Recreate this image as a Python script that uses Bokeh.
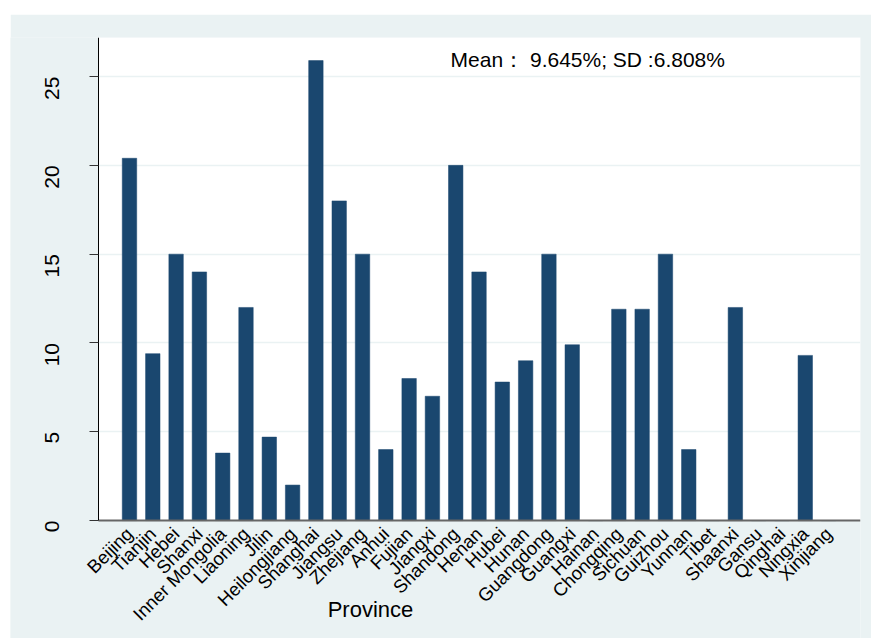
import math
from bokeh.plotting import figure
from bokeh.models import (Range1d, FixedTicker, Label, ColumnDataSource,
                          LinearAxis, BoxAnnotation)
from bokeh.embed import file_html
from bokeh.resources import INLINE

provinces = ["Beijing", "Tianjin", "Hebei", "Shanxi", "Inner Mongolia", "Liaoning",
             "Jilin", "Heilongjiang", "Shanghai", "Jiangsu", "Zhejiang", "Anhui",
             "Fujian", "Jiangxi", "Shandong", "Henan", "Hubei", "Hunan", "Guangdong",
             "Guangxi", "Hainan", "Chongqing", "Sichuan", "Guizhou", "Yunnan", "Tibet",
             "Shaanxi", "Gansu", "Qinghai", "Ningxia", "Xinjiang"]
values = [20.4, 9.4, 15.0, 14.0, 3.8, 12.0,
          4.7, 2.0, 25.9, 18.0, 15.0, 4.0,
          8.0, 7.0, 20.0, 14.0, 7.8, 9.0, 15.0,
          9.9, 0.0, 11.9, 11.9, 15.0, 4.0, 0.0,
          12.0, 0.0, 0.0, 9.3, 0.0]
y_ticks = [0, 5, 10, 15, 20, 25]
annotation = "Mean：  9.645%; SD :6.808%"
x_title = "Province"

FONT = "Liberation Sans"
BG = "#eaf2f3"
BAR = "#1a476f"
Y_TOP = 27.2
Y_BOTTOM = -6.64
X_LEFT = -5.106      # outer edge of the canvas (room for y tick labels)
X_AXIS = -1.33       # where the y axis sits (left edge of the plot region)
X_RIGHT = 31.37

idx = list(range(len(provinces)))
src = ColumnDataSource(dict(x=idx, top=values))

p = figure(width=861, height=624, output_backend="svg", toolbar_location=None,
           x_range=Range1d(X_LEFT, X_RIGHT), y_range=Range1d(Y_BOTTOM, Y_TOP),
           x_axis_location=None, y_axis_location=None)
p.margin = (14, 0, 0, 10)
p.min_border_left = 0
p.min_border_right = 11
p.min_border_top = 23
p.min_border_bottom = 0
p.border_fill_color = BG
p.background_fill_color = BG
p.outline_line_color = None

# grid
p.xgrid.grid_line_color = None
p.ygrid.ticker = FixedTicker(ticks=y_ticks[1:])
p.ygrid.grid_line_color = BG
p.ygrid.grid_line_width = 1.5

# white plot region
p.add_layout(BoxAnnotation(bottom=0, left=X_AXIS, fill_color="white", fill_alpha=1,
                           line_color=None, level="image"))
# keep grid lines out of the outer margin
p.add_layout(BoxAnnotation(right=X_AXIS, fill_color=BG, fill_alpha=1,
                           line_color=None, level="underlay"))

p.vbar(x="x", top="top", width=0.62, bottom=0, source=src,
       fill_color=BAR, line_color=BAR, line_width=0.5)

# y axis
yaxis = LinearAxis(fixed_location=X_AXIS)
yaxis.ticker = FixedTicker(ticks=y_ticks)
yaxis.bounds = (0, Y_TOP)
yaxis.minor_tick_line_color = None
yaxis.major_tick_out = 9
yaxis.major_tick_in = 0
yaxis.major_tick_line_color = "#333333"
yaxis.axis_line_color = "black"
yaxis.axis_line_width = 1
yaxis.major_label_orientation = math.pi / 2
yaxis.major_label_standoff = 37
yaxis.major_label_text_font = FONT
yaxis.major_label_text_font_size = "21px"
yaxis.major_label_text_color = "black"
p.add_layout(yaxis, "left")

# x axis at y = 0
xaxis = LinearAxis(fixed_location=0)
xaxis.ticker = FixedTicker(ticks=idx)
xaxis.bounds = (X_AXIS, X_RIGHT)
xaxis.major_label_overrides = {i: name for i, name in enumerate(provinces)}
xaxis.major_label_orientation = math.pi / 4
xaxis.major_tick_line_color = None
xaxis.minor_tick_line_color = None
xaxis.major_label_standoff = 4
xaxis.major_label_text_font = FONT
xaxis.major_label_text_font_size = "18.5px"
xaxis.major_label_text_color = "black"
xaxis.axis_line_color = "#666666"
xaxis.axis_line_width = 2
p.add_layout(xaxis, "below")

# annotations
p.add_layout(Label(x=13.78, y=25.95, text=annotation, text_align="left",
                   text_baseline="alphabetic", text_font=FONT,
                   text_font_size="21px", text_color="black"))
p.add_layout(Label(x=10.34, y=-5.0, text=x_title, text_align="center",
                   text_baseline="alphabetic", text_font=FONT,
                   text_font_size="22px", text_color="black"))

open("out.html", "w").write(file_html(p, INLINE))
